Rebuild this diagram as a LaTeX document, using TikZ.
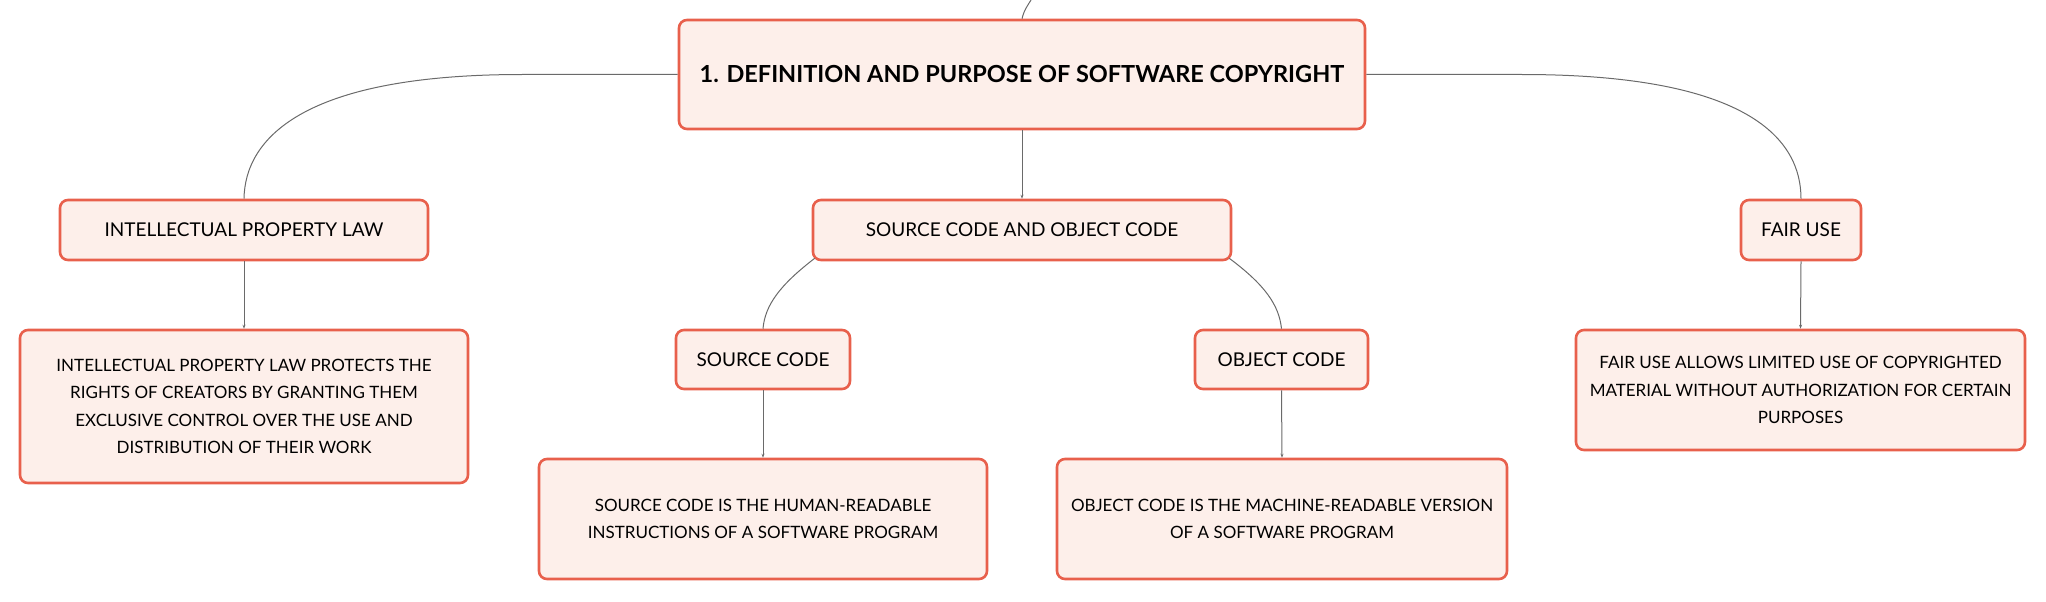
\documentclass[tikz,border=0pt]{standalone}
\usepackage{fontspec}
\setmainfont{Lato}
\usetikzlibrary{arrows.meta}
\definecolor{boxfill}{HTML}{FDEFEA}
\definecolor{boxdraw}{HTML}{E8604C}
\definecolor{linkcol}{HTML}{6A6A6A}
\tikzset{
  mapbox/.style={draw=boxdraw, fill=boxfill, line width=2.6pt, rounded corners=8pt, align=center, inner sep=0pt, font=\fontsize{19}{23}\selectfont},
  descbox/.style={mapbox, font=\fontsize{17}{27.5}\selectfont},
  link/.style={draw=linkcol, line width=1pt},
  arrowlink/.style={link, -{Stealth[length=4pt,width=3pt]}}
}
\begin{document}
\begin{tikzpicture}[x=1pt,y=-1pt]
\useasboundingbox (0,0) rectangle (2046,602);
% nodes
\node[mapbox, minimum width=686pt, minimum height=109pt, font=\fontsize{23.5}{28}\selectfont\bfseries] (main) at (1022,74.5) {1. DEFINITION AND PURPOSE OF SOFTWARE COPYRIGHT};
\node[mapbox, minimum width=368pt, minimum height=60pt] (ip) at (244,230) {INTELLECTUAL PROPERTY LAW};
\node[descbox, minimum width=448pt, minimum height=153pt] (ipd) at (244,406.5) {INTELLECTUAL PROPERTY LAW PROTECTS THE\\RIGHTS OF CREATORS BY GRANTING THEM\\EXCLUSIVE CONTROL OVER THE USE AND\\DISTRIBUTION OF THEIR WORK};
\node[mapbox, minimum width=418pt, minimum height=60pt] (sc) at (1022,230) {SOURCE CODE AND OBJECT CODE};
\node[mapbox, minimum width=174pt, minimum height=59pt] (src) at (763,359.5) {SOURCE CODE};
\node[descbox, minimum width=448pt, minimum height=120pt] (srcd) at (763,519) {SOURCE CODE IS THE HUMAN-READABLE\\INSTRUCTIONS OF A SOFTWARE PROGRAM};
\node[mapbox, minimum width=173pt, minimum height=59pt] (obj) at (1281.5,359.5) {OBJECT CODE};
\node[descbox, minimum width=450pt, minimum height=120pt] (objd) at (1282,519) {OBJECT CODE IS THE MACHINE-READABLE VERSION\\OF A SOFTWARE PROGRAM};
\node[mapbox, minimum width=120pt, minimum height=60pt] (fair) at (1801,230) {FAIR USE};
\node[descbox, minimum width=449pt, minimum height=120pt] (faird) at (1800.5,390) {FAIR USE ALLOWS LIMITED USE OF COPYRIGHTED\\MATERIAL WITHOUT AUTHORIZATION FOR CERTAIN\\PURPOSES};
% connectors
\coordinate (topend) at (1031,0);
\coordinate (lbend) at (522,74.5);
\coordinate (rbend) at (1522,74.5);
\draw[link] (main.north) .. controls (1024,10) and (1028,5) .. (topend);
\draw[link] (main.west) -- (lbend) .. controls (300,74.5) and (245,140) .. (ip.north);
\draw[link] (main.east) -- (rbend) .. controls (1750,74.5) and (1801,140) .. (fair.north);
\draw[arrowlink] (main.south) -- (sc.north);
\draw[arrowlink] (ip.south) -- (ipd.north);
\draw[arrowlink] (fair.south) -- (faird.north);
\draw[arrowlink] (src.south) -- (srcd.north);
\draw[arrowlink] (obj.south) -- (objd.north);
\draw[link] (sc.south west) ++(3,-3) coordinate (scl) .. controls (780,285) and (765,305) .. (src.north);
\draw[link] (sc.south east) ++(-3,-3) coordinate (scr) .. controls (1265,285) and (1279,305) .. (obj.north);
\end{tikzpicture}
\end{document}
